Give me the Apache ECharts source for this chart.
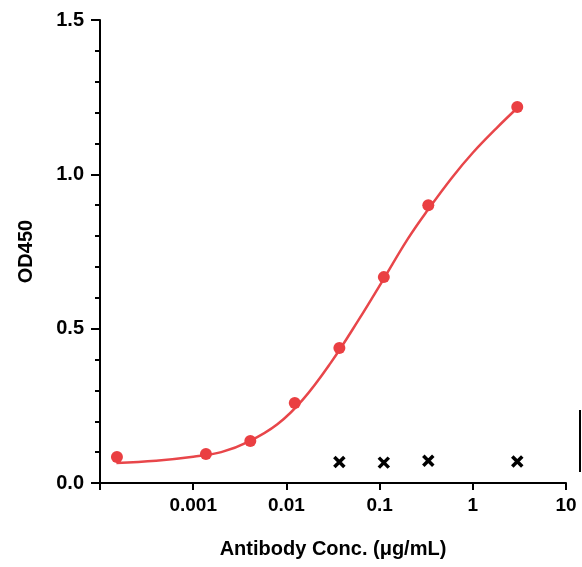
<!DOCTYPE html><html><head><meta charset="utf-8"><script src="https://cdn.jsdelivr.net/npm/echarts@6/dist/echarts.min.js"></script></head><body style="margin:0"><div id="c" style="width:582px;height:567px"></div><script>
const conc=[0.000152,0.00137,0.0041,0.0123,0.037,0.111,0.333,3];
const od=[0.084,0.094,0.136,0.259,0.437,0.667,0.90,1.218];
const ctrlConc=[0.037,0.111,0.333,3];
const ctrlOd=[0.068,0.066,0.072,0.07];
const fitConc=[0.00015,0.0004,0.001,0.002,0.004,0.008,0.015,0.03,0.06,0.11,0.2,0.33,0.6,1,1.8,3];
const fitOd=[0.065,0.072,0.085,0.1,0.135,0.19,0.27,0.39,0.53,0.66,0.79,0.885,0.99,1.07,1.15,1.215];
const lab={fontFamily:'Liberation Sans',fontWeight:'bold',fontSize:19,color:'#000'};
const ch=echarts.init(document.getElementById('c'));
ch.setOption({animation:false,
grid:{left:100,right:16,top:20,bottom:84},
xAxis:{type:'log',min:0.0001,max:10,name:'Antibody Conc. (μg/mL)',nameLocation:'middle',nameGap:56,nameTextStyle:Object.assign({},lab,{fontSize:20}),
 axisLine:{lineStyle:{color:'#000',width:2}},axisTick:{length:7,lineStyle:{width:2}},splitLine:{show:false},minorTick:{show:false},
 axisLabel:Object.assign({},lab,{margin:13,formatter:v=>v<0.0005?'':String(+v.toPrecision(1))})},
yAxis:{type:'value',min:0,max:1.5,interval:0.5,name:'OD450',nameLocation:'middle',nameGap:64,nameTextStyle:Object.assign({},lab,{fontSize:20}),
 axisLine:{show:true,lineStyle:{color:'#000',width:2}},axisTick:{show:true,length:9,lineStyle:{width:2}},
 minorTick:{show:true,splitNumber:5,length:5,lineStyle:{color:'#000',width:2}},splitLine:{show:false},
 axisLabel:Object.assign({},lab,{fontSize:20,margin:16,formatter:v=>v.toFixed(1)})},
series:[
{type:'line',data:fitConc.map((c,i)=>[c,fitOd[i]]),smooth:0.4,showSymbol:false,lineStyle:{color:'#e8464a',width:2.5},z:2},
{type:'scatter',data:conc.map((c,i)=>[c,od[i]]),symbolSize:12,itemStyle:{color:'#ea3f42',opacity:1},z:3},
{type:'scatter',data:ctrlConc.map((c,i)=>[c,ctrlOd[i]]),symbol:'path://M0,0L10,10M10,0L0,10',symbolSize:10,itemStyle:{color:'none',borderColor:'#000',borderWidth:3.5,opacity:1},z:3}
],
graphic:[{type:'line',shape:{x1:580,y1:410,x2:580,y2:472},style:{stroke:'#000',lineWidth:2}}]
});
</script></body></html>
